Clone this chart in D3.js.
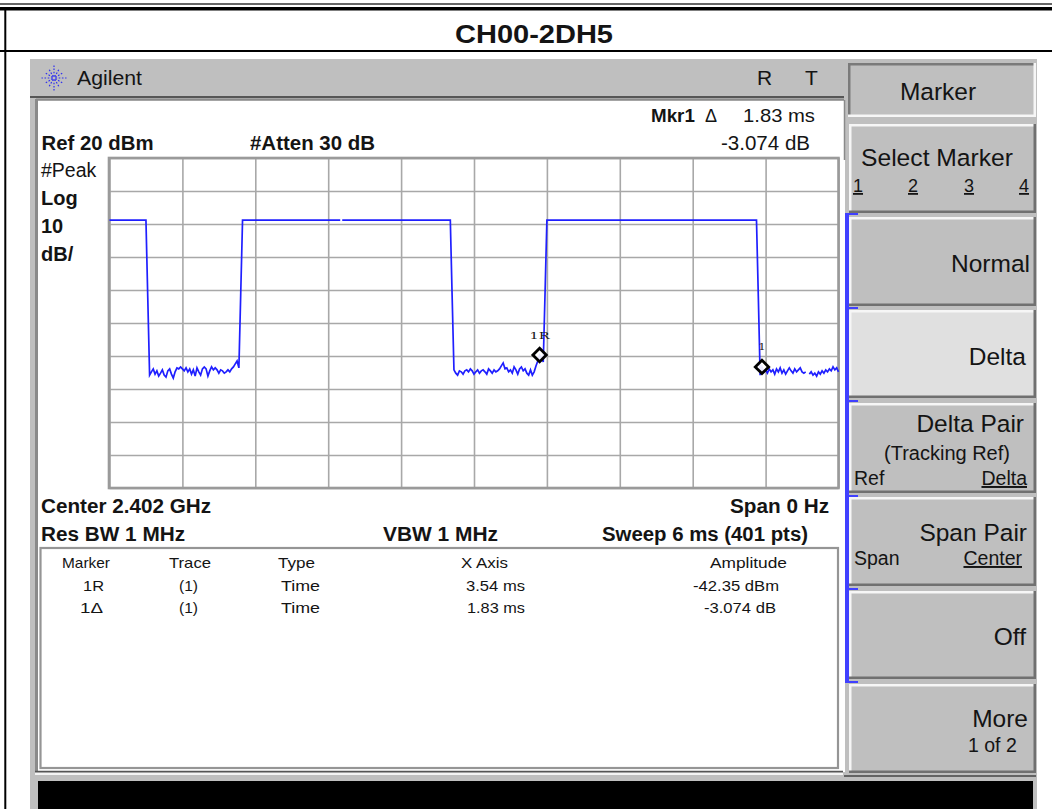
<!DOCTYPE html>
<html><head><meta charset="utf-8">
<style>html,body{margin:0;padding:0;background:#fff;overflow:hidden}svg{display:block}text{font-family:"Liberation Sans",Arial,sans-serif;fill:#141414}</style>
<script src="https://cdnjs.cloudflare.com/ajax/libs/d3/7.8.5/d3.min.js"></script>
</head><body><svg id="c" width="1052" height="809"></svg>
<script>
// ---- data (time in sweep points, level in dBm) ----
const chartTitle = "CH00-2DH5";
const sweepMs = 6, sweepPoints = 400;
const timeTicks = [0,0.6,1.2,1.8,2.4,3,3.6,4.2,4.8,5.4,6];
const levelTicks = [20,10,0,-10,-20,-30,-40,-50,-60,-70,-80];
const burstLevel = 1.2;
const burst0 = [[0,burstLevel],[20,burstLevel],[21,-22.4]];
const noiseAStart = 22;
const noiseA = [-45.8,-44.8,-43.9,-45.5,-44.5,-46.1,-45.2,-44.2,-45.8,-46.4,
 -44.5,-43.9,-45.5,-46.7,-44.8,-43.6,-43.9,-43.3,-43.9,-44.5,
 -43.6,-44.8,-43.9,-45.5,-44.2,-46.1,-43.6,-44.8,-45.8,-43.9,
 -43.3,-43.9,-46.1,-44.5,-43.3,-44.2,-43.6,-44.2,-45.2,-44.2,
 -44.5,-45.2,-44.8,-44.2,-44.8,-43.9,-43.3,-42.4,-41.5,-43.6];
const burst1a = [[72,-21.2],[73,burstLevel],[126.6,burstLevel]];
const burst1b = [[127.7,burstLevel],[187,burstLevel],[188,-21.8]];
const noiseBStart = 189;
const noiseB = [-44.2,-45.2,-45.8,-44.5,-44.8,-45.5,-44.5,-44.2,-44.8,-43.9,
 -44.5,-45.5,-44.8,-44.2,-45.2,-44.5,-44.2,-44.8,-45.5,-43.9,
 -44.5,-45.2,-44.2,-44.8,-44.5,-43.9,-43.0,-42.1,-43.9,-43.6,
 -44.8,-44.2,-45.2,-43.3,-44.2,-45.5,-43.9,-43.3,-44.5,-43.9,
 -45.2,-45.8,-44.2,-45.8,-44.8,-43.0,-41.5,-39.7,-40.6,-41.8];
const burst2 = [[239,-20.6],[240,burstLevel],[355,burstLevel],[356,-21.8]];
const noiseCStart = 357;
const noiseC = [-45.8,-43.3,-44.8,-44.2,-45.2,-43.9,-44.8,-44.2,-45.5,-43.9,
 -44.8,-43.6,-45.2,-44.2,-45.5,-44.5,-43.6,-44.5,-45.2,-43.9,
 -44.8,-44.2,-43.6,-44.8,-45.2,-44.8];
const noiseDStart = 384;
const noiseD = [-45.5,-44.8,-45.8,-45.2,-46.1,-44.8,-45.5,-44.5,-45.2,-44.2,-44.8,-43.9,-44.5,-43.3,-44.2,-43.6,-44.8];
const markerNames = ["1R","1"];
const markerTimes = [3.54,5.37];
const markerLevels = [-39.7,-43.3];
const tableHead = ["Marker","Trace","Type","X Axis","Amplitude"];
const tableRow1 = ["1R","(1)","Time","3.54 ms","-42.35 dBm"];
const tableRow2 = ["1\u0394","(1)","Time","1.83 ms","-3.074 dB"];

// ---- scales ----
const x = d3.scaleLinear().domain([0,sweepMs]).range([109.5,838.5]);
const y = d3.scaleLinear().domain([20,-80]).range([158,488]);
const svg = d3.select("#c");
const LT="#f6f6f6",PANEL="#bfbfbf";

function rect(x0,y0,w,h,fill,stroke,sw){return svg.append("rect").attr("x",x0).attr("y",y0).attr("width",w).attr("height",h).attr("fill",fill).attr("stroke",stroke||"none").attr("stroke-width",sw||0);}
function line(a,b,c,d,col,w){return svg.append("line").attr("x1",a).attr("y1",b).attr("x2",c).attr("y2",d).attr("stroke",col).attr("stroke-width",w);}
function text(s,px,py,size,o){o=o||{};const t=svg.append("text").attr("x",px).attr("y",py).attr("font-size",size).attr("text-anchor",o.a||"start").attr("font-weight",o.b?"bold":"normal").text(s);
 if(o.u)t.attr("text-decoration","underline");
 if(o.w)t.attr("textLength",o.w).attr("lengthAdjust","spacingAndGlyphs");
 if(o.f)t.style("font-family",o.f);
 return t;}

// ---- page frame ----
line(0,4,1052,4,"#333",1.4);
line(0,8.8,1052,8.8,"#000",3.4);
line(5.3,9,5.3,809,"#000",2);
line(0,51,1052,51,"#000",2);
text(chartTitle,534,43,25.5,{a:"middle",b:true,w:158});

// ---- instrument panel ----
rect(30,59,1007,750,PANEL);
rect(38,101,807,671,"#fff");
line(30,97,844,97,"#333",1.6);
line(36,99.6,844,99.6,"#8a8a8a",2);
line(36.5,99,36.5,772,"#8a8a8a",3);
line(844.5,100,844.5,160,"#8a8a8a",1.5);
line(35,771.5,843,771.5,"#555",1.6);
line(35,774,843,774,"#f4f4f4",2);
line(844,776,1036,776,"#444",1.6);
rect(38,781,995,28,"#000");

// Agilent spark
const sparkC=[54,78];
d3.range(0,12).forEach(i=>{const a=i*Math.PI/6, r=i%3==0?12.5:11;
 line(sparkC[0]+1.5*Math.cos(a),sparkC[1]+1.5*Math.sin(a),sparkC[0]+r*Math.cos(a),sparkC[1]+r*Math.sin(a),"#2f2ff0",1.2).attr("stroke-dasharray","1.6 1.6");});
text("Agilent",77,85,20,{w:65});
text("R",757,85,21,{});
text("T",805,85,21,{});

// header annotation
text("Mkr1",651,122,18.8,{b:true});
text("\u0394",705,122,18,{});
text("1.83 ms",743,122,18.5,{w:72});
text("-3.074 dB",810,150,20,{a:"end",w:89});
text("Ref 20 dBm",41.5,150,20,{b:true,w:112});
text("#Atten 30 dB",250,150,20,{b:true,w:125});
text("#Peak",41,177,19.5,{});
text("Log",41,205,20,{b:true});
text("10",41,233,20,{b:true});
text("dB/",41,261,20,{b:true});

// ---- plot: grid through the axes ----
const xGrid = d3.axisBottom(x).tickValues(timeTicks).tickSize(-330).tickFormat("");
const yGrid = d3.axisLeft(y).tickValues(levelTicks).tickSize(-729).tickFormat("");
const gx = svg.append("g").attr("transform","translate(0,488)").call(xGrid);
const gy = svg.append("g").attr("transform","translate(109.5,0)").call(yGrid);
[gx,gy].forEach(g=>{g.selectAll(".domain").remove();g.selectAll("line").attr("stroke","#a8a8a8").attr("stroke-width",1.6);});
rect(109,158,729.5,330,"none","#9a9a9a",2.6);

// ---- trace ----
const msOf = i => i/sweepPoints*sweepMs;
const seq = (start,vals)=>vals.map((v,i)=>[start+i,v]);
const trace = [].concat(burst0,seq(noiseAStart,noiseA),burst1a,[[127,null]],burst1b,seq(noiseBStart,noiseB),burst2,seq(noiseCStart,noiseC),[[383,null]],seq(noiseDStart,noiseD));
const lineGen = d3.line().defined(d=>d[1]!==null).x(d=>x(msOf(d[0]))).y(d=>y(d[1]));
svg.append("path").datum(trace).attr("d",lineGen).attr("fill","none").attr("stroke","#1f1fff").attr("stroke-width",1.7).attr("stroke-linejoin","miter");

// ---- markers ----
markerNames.forEach((n,i)=>{
 const mx=x(markerTimes[i]),my=y(markerLevels[i]);
 svg.append("path").attr("d",d3.symbol(d3.symbolSquare,90)()).attr("transform",`translate(${mx},${my}) rotate(45)`).attr("fill","#fff").attr("fill-opacity",0.9).attr("stroke","#000").attr("stroke-width",2.8);
 text(n,mx,my-(i==0?16:17),10,{a:"middle",f:"'DejaVu Serif',serif",w:i==0?20:7});
});

// ---- lower annotation ----
text("Center 2.402 GHz",41,513,20,{b:true,w:170});
text("Span 0 Hz",730,513,20,{b:true,w:99});
text("Res BW 1 MHz",41,541,20,{b:true,w:144});
text("VBW 1 MHz",383,541,20,{b:true,w:115});
text("Sweep 6 ms (401 pts)",602,541,20,{b:true,w:206});

rect(40.5,548,797.5,220,"#fff","#959595",2.2);
const colX=[62,169,278,461,710], colW=[48,42,37,47,77];
const r1X=[83,179,281,466,693], r1W=[21,19,39,59,86];
const r2X=[80,179,281,467,704], r2W=[23,19,39,58,72];
tableHead.forEach((s,i)=>text(s,colX[i],568,14.6,{w:colW[i]}));
tableRow1.forEach((s,i)=>text(s,r1X[i],591,14.6,{w:r1W[i]}));
tableRow2.forEach((s,i)=>text(s,r2X[i],613,14.6,{w:r2W[i]}));

// ---- softkeys ----
const keyTop=[124,217,310,403,497,591,684], keyBot=[213,306,398,493,586,679,773];
function key(x0,y0,x1,y1,fill,sunken){
 rect(x0,y0,x1-x0,y1-y0,fill);
 const a=sunken?"#7a7a7a":LT,b=sunken?LT:"#707070";
 line(x0,y0+1.25,x1,y0+1.25,a,2.5);line(x0+1.25,y0,x0+1.25,y1,a,2.5);
 line(x0,y1-1.25,x1,y1-1.25,b,2.5);line(x1-1.25,y0,x1-1.25,y1,b,2.5);
}
key(848,63,1036,117,PANEL,true);
keyTop.forEach((t,i)=>key(849,t,1036,keyBot[i],i==2?"#e0e0e0":PANEL,false));
// blue brackets
rect(845,213,4,469,"#4040ff");
[213,307,400,495,588,681].forEach(v=>rect(845,v,13,2,"#4040ff"));

text("Marker",938,100,24.5,{a:"middle"});
text("Select Marker",937,166,24.5,{a:"middle",w:152});
[["1",853],["2",908],["3",964],["4",1019]].forEach(d=>text(d[0],d[1],192,18,{u:true}));
text("Normal",1030,272,24.5,{a:"end"});
text("Delta",1026,365,24.5,{a:"end"});
text("Delta Pair",1024,432,24.5,{a:"end"});
text("(Tracking Ref)",947,460,20,{a:"middle"});
text("Ref",854,485,19.5,{});
text("Delta",1027,485,19.5,{a:"end",u:true});
text("Span Pair",1027,541,24.5,{a:"end"});
text("Span",854,565,19.5,{});
text("Center",1022,565,19.5,{a:"end",u:true});
text("Off",1026,645,24.5,{a:"end"});
text("More",1028,727,24.5,{a:"end"});
text("1 of 2",968,752,19.5,{});
</script></body></html>
